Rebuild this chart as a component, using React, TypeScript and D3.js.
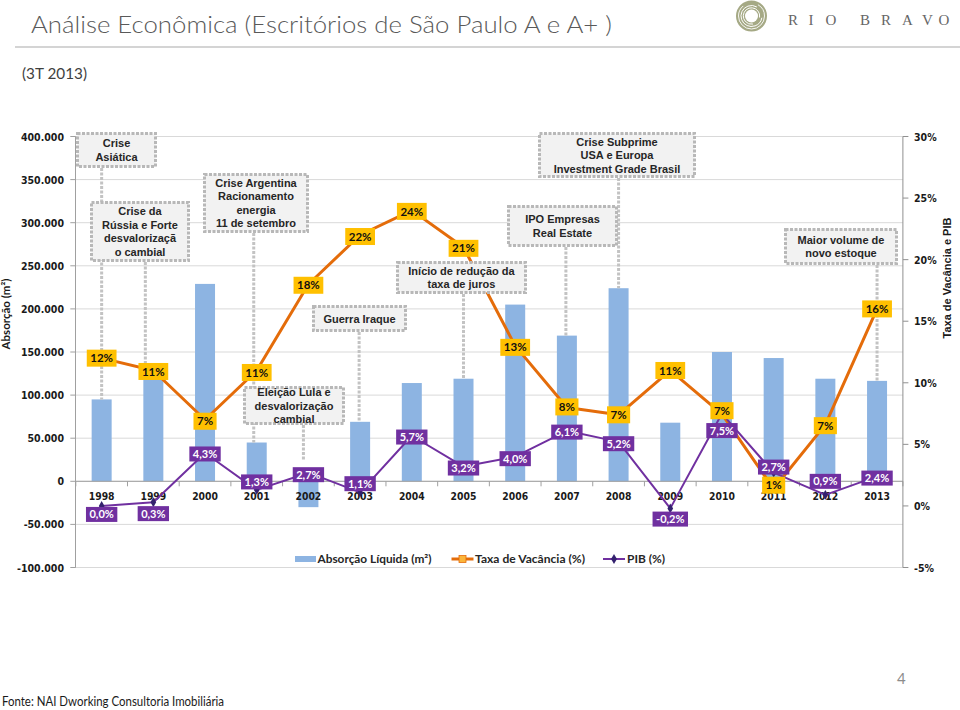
import React, { useEffect, useRef } from "react";
import * as d3 from "d3";

// ---------- DATA ----------
const years = ["1998", "1999", "2000", "2001", "2002", "2003", "2004", "2005", "2006", "2007", "2008", "2009", "2010", "2011", "2012", "2013"];
const absorcao = [95000, 125000, 229000, 45000, -30000, 69000, 114000, 119000, 205000, 169000, 224000, 68000, 150000, 143000, 119000, 116500];
const vacancia = [12, 11, 7, 11, 18, 22, 24, 21, 13, 8, 7.4, 11, 7.45, 1.4, 6.6, 16];
const pib = [0.0, 0.3, 4.3, 1.3, 2.7, 1.1, 5.7, 3.2, 4.0, 6.1, 5.2, -0.2, 7.5, 2.7, 0.9, 2.4];
const leftTicks = [-100000, -50000, 0, 50000, 100000, 150000, 200000, 250000, 300000, 350000, 400000];
const rightTicks = [-5, 0, 5, 10, 15, 20, 25, 30];
const legendLabels = ["Absorção Líquida (m²)", "Taxa de Vacância (%)", "PIB (%)"];

const annotationTexts = [
  ["Crise", "Asiática"],
  ["Crise da", "Rússia e Forte", "desvalorizaçã", "o cambial"],
  ["Crise Argentina", "Racionamento", "energia", "11 de setembro"],
  ["Eleição Lula e", "desvalorização", "cambial"],
  ["Guerra Iraque"],
  ["Início de redução da", "taxa de juros"],
  ["IPO Empresas", "Real Estate"],
  ["Crise Subprime", "USA e Europa", "Investment Grade Brasil"],
  ["Maior volume de", "novo estoque"],
];
const annotationYears = ["1998", "1999", "2001", "2002", "2003", "2005", "2007", "2008", "2013"];

// ---------- LAYOUT (positions / styles) ----------
const annotationLayout = [
  { box: [76, 132, 81, 36], dx: 0, to: "bar" },
  { box: [90, 201, 100, 61], dx: -8, to: "bar" },
  { box: [203, 173, 106, 60], dx: -3, to: "bar" },
  { box: [243, 386, 102, 39], dx: -5, to: "pib" },
  { box: [312, 305, 95, 27], dx: -1, to: "bar" },
  { box: [396, 261, 131, 33], dx: 0, to: "bar" },
  { box: [507, 205, 111, 42], dx: -1, to: "bar" },
  { box: [538, 132, 158, 46], dx: 0, to: "bar" },
  { box: [784, 228, 114, 37], dx: 0, to: "bar" },
];
const vacLabelDy = [0, 1, 1.5, 2, 1, 1.5, 1, 1, 1.5, -0.5, 0, 0, -3.5, -3.5, 1, 0];
const pibLabelDy = [8.5, 11.4, 1, -8, 2, -8.7, 1.3, 1.5, 2, 1.3, 1.8, 10.7, 17, -5.6, -13.5, 1.7];

const X0 = 75.8;
const X1 = 902.9;
const YTOP = 136.5;
const YBOT = 567.5;

const C_BAR = "#8db4e2";
const C_ORANGE = "#e46c0a";
const C_GOLD = "#ffc000";
const C_PURPLE = "#7030a0";
const C_GRID = "#d9d9d9";
const C_AXIS = "#a0a0a0";
const AXIS_FONT = "'DejaVu Sans Condensed', 'DejaVu Sans', sans-serif";
const LABEL_FONT = "Lato, 'Open Sans', sans-serif";
const ANN_FONT = "'Liberation Sans', Arial, sans-serif";

export default function App() {
  const ref = useRef<SVGSVGElement>(null);

  useEffect(() => {
    const svg = d3.select(ref.current as SVGSVGElement);
    svg.selectAll("*").remove();

    const locale = d3.formatLocale({ decimal: ",", thousands: ".", grouping: [3], currency: ["R$", ""], minus: "-" });
    const fmtLeft = locale.format(",");

    const x = d3.scaleBand<string>().domain(years).range([X0, X1]);
    const step = x.step();
    const cx = (i: number) => (x(years[i]) as number) + x.bandwidth() / 2;
    const cxYear = (y: string) => (x(y) as number) + x.bandwidth() / 2;
    const yL = d3.scaleLinear().domain([-100000, 400000]).range([YBOT, YTOP]);
    const yR = d3.scaleLinear().domain([-5, 30]).range([YBOT, YTOP]);
    const barW = 20;

    // ---------- Header ----------
    svg.append("text").attr("x", 31).attr("y", 33).attr("font-family", LABEL_FONT).attr("font-size", 24)
      .attr("font-weight", 300)
      .attr("fill", "#595959").attr("textLength", 581).attr("lengthAdjust", "spacingAndGlyphs")
      .text("Análise Econômica (Escritórios de São Paulo A e A+ )");
    svg.append("line").attr("x1", 15).attr("x2", 960).attr("y1", 47).attr("y2", 47)
      .attr("stroke", "#d4d4d4").attr("stroke-width", 2);
    svg.append("text").attr("x", 22).attr("y", 79).attr("font-family", LABEL_FONT).attr("font-size", 15.5)
      .attr("fill", "#3f3f3f").attr("textLength", 65).attr("lengthAdjust", "spacingAndGlyphs").text("(3T 2013)");

    // logo
    const logo = svg.append("g").attr("transform", "translate(751.5,16)");
    logo.append("circle").attr("r", 15.5).attr("fill", "#a5a985");
    [13, 10.5, 8.2].forEach((r, k) => {
      logo.append("circle").attr("r", r).attr("fill", "none").attr("stroke", "#ffffff")
        .attr("stroke-width", 0.9).attr("stroke-dasharray", `${r * 4} ${r * 1.2}`)
        .attr("transform", `rotate(${k * 70})`);
    });
    logo.append("circle").attr("r", 6.5).attr("fill", "#ffffff");
    const logoText = svg.append("text").attr("y", 25).attr("font-family", "'Liberation Serif', 'DejaVu Serif', serif")
      .attr("font-size", 15).attr("fill", "#666666").attr("text-anchor", "middle");
    const logoLetters = ["R", "I", "O", "B", "R", "A", "V", "O"];
    const logoX = [793, 811, 831, 865, 886, 907.5, 927.5, 944];
    logoLetters.forEach((ch, i) => logoText.append("tspan").attr("x", logoX[i]).text(ch));

    // ---------- Grid ----------
    const g = svg.append("g");
    leftTicks.forEach((t) => {
      g.append("line").attr("x1", X0).attr("x2", X1).attr("y1", yL(t)).attr("y2", yL(t))
        .attr("stroke", C_GRID).attr("stroke-width", 1);
    });

    // ---------- Bars ----------
    absorcao.forEach((v, i) => {
      g.append("rect").attr("x", cx(i) - barW / 2).attr("y", Math.min(yL(v), yL(0)))
        .attr("width", barW).attr("height", Math.abs(yL(v) - yL(0))).attr("fill", C_BAR);
    });

    // ---------- Axes ----------
    g.append("line").attr("x1", X0).attr("x2", X1).attr("y1", yL(0)).attr("y2", yL(0))
      .attr("stroke", C_AXIS).attr("stroke-width", 1);
    d3.range(years.length + 1).forEach((k) => {
      const xx = X0 + k * step;
      g.append("line").attr("x1", xx).attr("x2", xx).attr("y1", yL(0)).attr("y2", yL(0) + 5)
        .attr("stroke", C_AXIS);
    });
    years.forEach((yv, i) => {
      g.append("text").attr("x", cx(i)).attr("y", yL(0) + 19).attr("text-anchor", "middle")
        .attr("font-family", AXIS_FONT).attr("font-stretch", "condensed").attr("font-weight", "bold")
        .attr("font-size", 10.3).attr("fill", "#1a1a1a").text(yv);
    });
    g.append("line").attr("x1", X0 - 0.3).attr("x2", X0 - 0.3).attr("y1", YTOP).attr("y2", YBOT).attr("stroke", C_AXIS);
    leftTicks.forEach((t) => {
      g.append("line").attr("x1", X0 - 5.5).attr("x2", X0).attr("y1", yL(t)).attr("y2", yL(t)).attr("stroke", C_AXIS);
      g.append("text").attr("x", 64).attr("y", yL(t) + 4).attr("text-anchor", "end")
        .attr("font-family", AXIS_FONT).attr("font-stretch", "condensed").attr("font-weight", "bold")
        .attr("font-size", 10.5).attr("fill", "#1a1a1a").text(fmtLeft(t));
    });
    g.append("line").attr("x1", X1).attr("x2", X1).attr("y1", YTOP).attr("y2", YBOT).attr("stroke", "#909090");
    rightTicks.forEach((t) => {
      g.append("line").attr("x1", X1).attr("x2", X1 + 5.5).attr("y1", yR(t)).attr("y2", yR(t)).attr("stroke", "#909090");
      g.append("text").attr("x", 914).attr("y", yR(t) + 4).attr("text-anchor", "start")
        .attr("font-family", AXIS_FONT).attr("font-stretch", "condensed").attr("font-weight", "bold")
        .attr("font-size", 10.5).attr("fill", "#1a1a1a").text(`${t}%`);
    });
    g.append("text").attr("transform", "translate(10,314) rotate(-90)").attr("text-anchor", "middle")
      .attr("font-family", LABEL_FONT).attr("font-weight", "bold").attr("font-size", 11.5)
      .attr("fill", "#1a1a1a").text("Absorção (m²)");
    g.append("text").attr("transform", "translate(951,278) rotate(-90)").attr("text-anchor", "middle")
      .attr("font-family", ANN_FONT).attr("font-weight", "bold").attr("font-size", 11)
      .attr("fill", "#1a1a1a").text("Taxa de Vacância e PIB");

    // ---------- Connectors ----------
    annotationLayout.forEach((a, k) => {
      const yi = years.indexOf(annotationYears[k]);
      const [, by, , bh] = a.box;
      const xx = cxYear(annotationYears[k]) + a.dx;
      const yEnd = a.to === "bar" ? yL(absorcao[yi]) : yR(pib[yi]) + pibLabelDy[yi] - 14;
      g.append("line").attr("x1", xx).attr("x2", xx).attr("y1", by + bh).attr("y2", yEnd)
        .attr("stroke", "#c3c3c3").attr("stroke-width", 3).attr("stroke-dasharray", "3 1.5");
    });

    // ---------- Lines ----------
    const lineGen = d3.line<number>().x((_, i) => cx(i)).y((v) => yR(v));
    g.append("path").attr("d", lineGen(vacancia) as string).attr("fill", "none")
      .attr("stroke", C_ORANGE).attr("stroke-width", 3).attr("stroke-linejoin", "round");
    g.append("path").attr("d", lineGen(pib) as string).attr("fill", "none")
      .attr("stroke", C_PURPLE).attr("stroke-width", 2).attr("stroke-linejoin", "round");
    pib.forEach((v, i) => {
      g.append("path").attr("d", d3.symbol(d3.symbolDiamond, 28)() as string)
        .attr("transform", `translate(${cx(i)},${yR(v)})`).attr("fill", "#33216e");
    });

    // ---------- Annotation boxes ----------
    annotationLayout.forEach((a, k) => {
      const [bx, by, bw, bh] = a.box;
      g.append("rect").attr("x", bx + 1.5).attr("y", by + 1.5).attr("width", bw - 3).attr("height", bh - 3)
        .attr("fill", "#f2f2f2").attr("stroke", "#b8b8b8").attr("stroke-width", 3).attr("stroke-dasharray", "3 1.5");
      const lines = annotationTexts[k];
      const cyy = by + bh / 2;
      lines.forEach((ln, j) => {
        g.append("text").attr("x", bx + bw / 2).attr("y", cyy + (j - (lines.length - 1) / 2) * 13.5 + 4)
          .attr("text-anchor", "middle").attr("font-family", ANN_FONT).attr("font-weight", "bold")
          .attr("font-size", 11).attr("fill", "#262626").text(ln);
      });
    });

    // ---------- Data labels ----------
    const addLabel = (xx: number, yy: number, txt: string, fill: string, color: string, size: number, h: number, pad: number) => {
      const lg = g.append("g");
      const rect = lg.append("rect").attr("fill", fill);
      const t = lg.append("text").attr("x", xx).attr("y", yy + size * 0.36).attr("text-anchor", "middle")
        .attr("font-family", LABEL_FONT).attr("font-weight", "bold").attr("font-size", size)
        .attr("fill", color).text(txt);
      const tw = (t.node() as SVGTextElement).getComputedTextLength();
      rect.attr("x", xx - tw / 2 - pad).attr("y", yy - h / 2).attr("width", tw + 2 * pad).attr("height", h);
    };
    vacancia.forEach((v, i) => {
      addLabel(cx(i), yR(v) + vacLabelDy[i], `${Math.round(v)}%`, C_GOLD, "#111111", 11.5, 17, 3.5);
    });
    pib.forEach((v, i) => {
      addLabel(cx(i), yR(v) + pibLabelDy[i], `${v.toFixed(1).replace(".", ",")}%`, C_PURPLE, "#ffffff", 11, 15, 3.5);
    });

    // ---------- Legend ----------
    const ly = 559;
    const lgd = svg.append("g").attr("font-family", LABEL_FONT).attr("font-weight", "bold").attr("font-size", 11.5).attr("fill", "#262626");
    lgd.append("rect").attr("x", 295).attr("y", ly - 3).attr("width", 21).attr("height", 6).attr("fill", C_BAR);
    lgd.append("text").attr("x", 317.5).attr("y", ly + 4).attr("textLength", 114).attr("lengthAdjust", "spacingAndGlyphs").text(legendLabels[0]);
    lgd.append("line").attr("x1", 451.5).attr("x2", 473.5).attr("y1", ly).attr("y2", ly).attr("stroke", C_ORANGE).attr("stroke-width", 3);
    lgd.append("rect").attr("x", 459).attr("y", ly - 3.5).attr("width", 7).attr("height", 7).attr("fill", "#fbb53a").attr("stroke", C_ORANGE).attr("stroke-width", 0.8);
    lgd.append("text").attr("x", 475).attr("y", ly + 4).attr("textLength", 110).attr("lengthAdjust", "spacingAndGlyphs").text(legendLabels[1]);
    lgd.append("line").attr("x1", 603).attr("x2", 625).attr("y1", ly).attr("y2", ly).attr("stroke", C_PURPLE).attr("stroke-width", 2);
    lgd.append("path").attr("d", d3.symbol(d3.symbolDiamond, 30)() as string).attr("transform", `translate(614,${ly})`).attr("fill", "#33216e");
    lgd.append("text").attr("x", 627).attr("y", ly + 4).attr("textLength", 38).attr("lengthAdjust", "spacingAndGlyphs").text(legendLabels[2]);

    // ---------- Footer ----------
    svg.append("text").attr("x", 897).attr("y", 684).attr("font-family", LABEL_FONT).attr("font-size", 15)
      .attr("fill", "#8c8c8c").text("4");
    svg.append("text").attr("x", 2).attr("y", 706).attr("font-family", LABEL_FONT).attr("font-size", 12.5)
      .attr("fill", "#1a1a1a").attr("textLength", 222).attr("lengthAdjust", "spacingAndGlyphs")
      .text("Fonte: NAI Dworking Consultoria Imobiliária");
  }, []);

  return (
    <svg
      ref={ref}
      width={960}
      height={710}
      style={{ position: "absolute", left: 0, top: 0, display: "block", background: "#ffffff" }}
    />
  );
}
